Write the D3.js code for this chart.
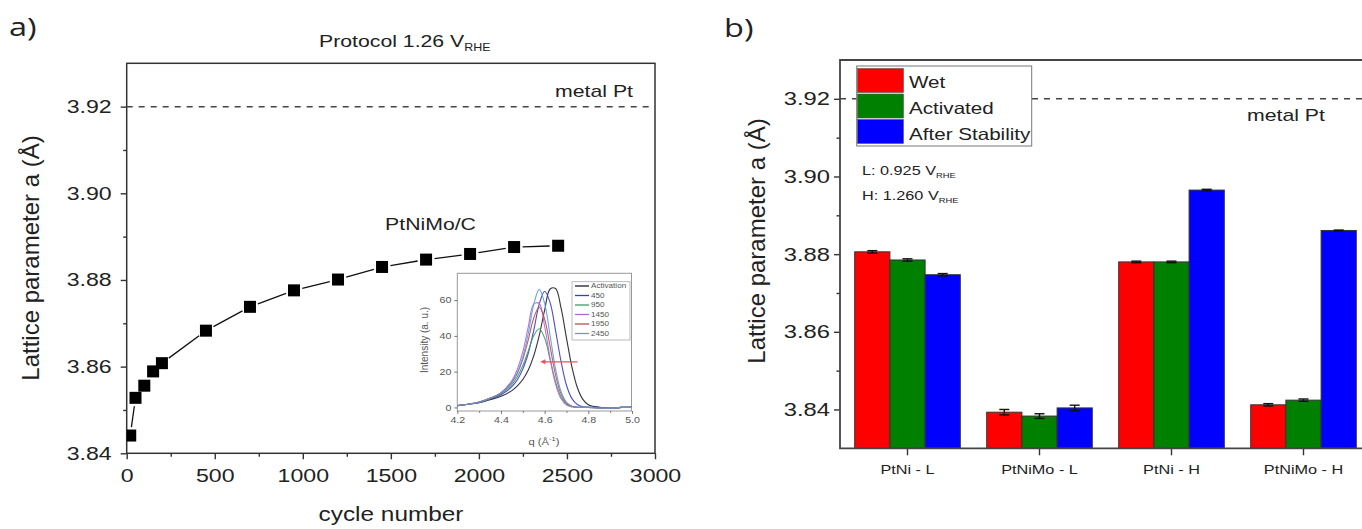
<!DOCTYPE html>
<html>
<head>
<meta charset="utf-8">
<script src="https://cdn.jsdelivr.net/npm/d3@7"></script>
<style>
  body { margin: 0; background: #fff; }
  svg { display: block; }
</style>
</head>
<body>
<script>
// panel a: lattice parameter vs cycle number
const cycles = [20, 50, 100, 150, 200, 450, 700, 950, 1200, 1450, 1700, 1950, 2200, 2450]
const lattice = [3.8441, 3.8528, 3.8556, 3.8589, 3.8608, 3.8683, 3.8738, 3.8776,
  3.8801, 3.8830, 3.8847, 3.8860, 3.8876, 3.8879]
const metalPt = 3.92

// inset: XRD peak profiles
const qValues = [4.20, 4.25, 4.30, 4.35, 4.40, 4.45, 4.475, 4.50, 4.525, 4.55, 4.575, 4.60,
  4.625, 4.65, 4.675, 4.70, 4.725, 4.75, 4.775, 4.80, 4.85, 4.90, 4.95, 5.00]
const profActivation = [1.0, 1.8, 2.6, 4.3, 6.2, 9.4, 12.0, 15.6, 20.9, 28.8, 40.1, 54.4,
  66.2, 66.5, 55.6, 38.8, 22.6, 11.0, 4.5, 1.5, 0.1, -0.5, 0, 0]
const prof450 = [1.0, 1.8, 2.8, 4.7, 7.1, 11.6, 15.5, 21.4, 30.3, 43.0, 57.7, 65.0,
  58.6, 43.0, 25.7, 12.4, 4.9, 1.6, 0.4, 0.1, 0, -0.5, 0, 0]
const prof950 = [1.0, 1.8, 2.8, 4.9, 7.6, 12.8, 17.2, 23.4, 31.6, 40.1, 44.0, 38.8,
  26.7, 14.3, 5.9, 1.9, 0.5, 0.1, 0, 0, -0.3, -0.5, 0, 0]
const prof1450 = [1.0, 1.8, 3.0, 5.1, 8.3, 15.0, 21.4, 31.2, 45.0, 57.8, 58.1, 45.3,
  27.5, 13.0, 4.8, 1.4, 0.3, 0, 0, 0, -0.3, -0.5, 0, 0]
const prof1950 = [1.0, 1.8, 3.0, 5.2, 8.1, 13.9, 19.1, 26.9, 37.8, 50.0, 56.0, 49.4,
  34.0, 18.2, 7.6, 2.5, 0.6, 0.1, 0, 0, -0.3, -0.5, 0, 0]
const prof2450 = [1.0, 1.8, 3.0, 5.1, 8.0, 14.1, 19.6, 28.3, 41.4, 57.5, 66.0, 58.2,
  40.1, 21.5, 8.9, 2.9, 0.7, 0.1, 0, 0, -0.3, -0.5, 0, 0]
const insetLabels = ['Activation', '450', '950', '1450', '1950', '2450']
const insetColors = ['#1c1c2c', '#3a3ac8', '#3f9a6a', '#b264d8', '#b8504a', '#5a9fd6']
const arrowFrom = [4.75, 25.5]
const arrowTo = [4.58, 25.5]

// panel b: grouped bars
const groups = ['PtNi - L', 'PtNiMo - L', 'PtNi - H', 'PtNiMo - H']
const seriesNames = ['Wet', 'Activated', 'After Stability']
const seriesColors = ['#ff0000', '#008000', '#0000ff']
const wet = [3.8806, 3.8393, 3.8780, 3.8412]
const activated = [3.8785, 3.8383, 3.8780, 3.8424]
const afterStability = [3.8747, 3.8404, 3.8965, 3.8861]
const wetErr = [0.0003, 0.0007, 0.0002, 0.0003]
const activatedErr = [0.0003, 0.0006, 0.0002, 0.0003]
const afterErr = [0.0003, 0.0007, 0.0002, 0.0001]

const SX = 1.25
const FONT = "'Liberation Sans', Arial, sans-serif"

const svg = d3.select('body').append('svg')
  .attr('width', 1362)
  .attr('height', 529)

svg.append('rect').attr('width', 1362).attr('height', 529).attr('fill', '#fff')

// horizontal text, slightly widened like the source picture
const label = function (parent, x, y, str, size, anchor) {
  return parent.append('text')
    .attr('transform', `translate(${x},${y}) scale(${SX},1)`)
    .attr('font-family', FONT)
    .attr('font-size', size + 'px')
    .attr('fill', '#222')
    .attr('text-anchor', anchor || 'start')
    .text(str)
}

const styleAxis = function (g, size, color) {
  g.select('.domain').remove()
  g.selectAll('line').attr('stroke', color || '#333').attr('stroke-width', 1.4)
  g.selectAll('text')
    .attr('font-family', FONT)
    .attr('font-size', size + 'px')
    .attr('fill', color || '#222')
    .each(function () {
      const t = d3.select(this)
      t.attr('x', (+t.attr('x') || 0) / SX).attr('transform', `scale(${SX},1)`)
    })
}

// ---------- panel a ----------
const A = { left: 126.7, right: 655, top: 63.3, bottom: 453.3 }
const xA = d3.scaleLinear().domain([0, 3000]).range([A.left, A.right])
const yA = d3.scaleLinear().domain([3.84, 3.93]).range([A.bottom, A.top])
const gA = svg.append('g')

gA.append('g').attr('transform', `translate(0,${A.bottom})`)
  .call(d3.axisBottom(xA).tickValues(d3.range(250, 3000, 500)).tickSize(3.5).tickFormat(''))
  .call(g => styleAxis(g, 18.5))
gA.append('g').attr('transform', `translate(0,${A.bottom})`)
  .call(d3.axisBottom(xA).tickValues(d3.range(0, 3001, 500)).tickSize(6).tickPadding(10)
    .tickFormat(d3.format('d')))
  .call(g => styleAxis(g, 18.5))
gA.append('g').attr('transform', `translate(${A.left},0)`)
  .call(d3.axisLeft(yA).tickValues([3.85, 3.87, 3.89, 3.91]).tickSize(3.5).tickFormat(''))
  .call(g => styleAxis(g, 18.5))
gA.append('g').attr('transform', `translate(${A.left},0)`)
  .call(d3.axisLeft(yA).tickValues([3.84, 3.86, 3.88, 3.90, 3.92]).tickSize(6).tickPadding(9)
    .tickFormat(d3.format('.2f')))
  .call(g => styleAxis(g, 18.5))

gA.append('rect')
  .attr('x', A.left).attr('y', A.top)
  .attr('width', A.right - A.left).attr('height', A.bottom - A.top)
  .attr('fill', 'none').attr('stroke', '#333').attr('stroke-width', 1.5)

gA.append('line')
  .attr('x1', A.left).attr('x2', A.right)
  .attr('y1', yA(metalPt)).attr('y2', yA(metalPt))
  .attr('stroke', '#444').attr('stroke-width', 1.5).attr('stroke-dasharray', '6,6')

// connecting segments leave a small gap around each marker
const pts = cycles.map((c, i) => [xA(c), yA(lattice[i])])
const gap = 8.5
for (let i = 0; i < pts.length - 1; i++) {
  const [x1, y1] = pts[i]
  const [x2, y2] = pts[i + 1]
  const len = Math.hypot(x2 - x1, y2 - y1)
  if (len <= 2 * gap) continue
  const ux = (x2 - x1) / len
  const uy = (y2 - y1) / len
  gA.append('line')
    .attr('x1', x1 + ux * gap).attr('y1', y1 + uy * gap)
    .attr('x2', x2 - ux * gap).attr('y2', y2 - uy * gap)
    .attr('stroke', '#111').attr('stroke-width', 1.3)
}

gA.append('defs').append('clipPath').attr('id', 'clipA')
  .append('rect').attr('x', A.left).attr('y', A.top)
  .attr('width', A.right - A.left).attr('height', A.bottom - A.top)

gA.append('g').attr('clip-path', 'url(#clipA)')
  .selectAll('rect')
  .data(cycles)
  .enter()
  .append('rect')
  .attr('x', (d) => xA(d) - 6)
  .attr('y', (d, i) => yA(lattice[i]) - 6)
  .attr('width', 12)
  .attr('height', 12)
  .attr('fill', '#000')

const title = label(svg, 319, 47, 'Protocol 1.26 V', 17)
title.append('tspan').attr('font-size', '10px').attr('dy', 4).text('RHE')
label(svg, 633, 96.5, 'metal Pt', 17, 'end')
label(svg, 430.5, 230, 'PtNiMo/C', 17, 'middle')
label(svg, 391, 521, 'cycle number', 19.5, 'middle')

svg.append('text')
  .attr('transform', 'translate(39,258) rotate(-90)')
  .attr('font-family', FONT).attr('font-size', '24px').attr('fill', '#222')
  .attr('text-anchor', 'middle')
  .text('Lattice parameter a (Å)')

svg.append('text')
  .attr('transform', `translate(9,36) scale(${SX},1)`)
  .attr('font-family', "'Open Sans', sans-serif").attr('font-size', '26px').attr('fill', '#222')
  .text('a)')

// ---------- inset ----------
const I = { left: 457.3, right: 631.5, top: 273.3, bottom: 411 }
const xI = d3.scaleLinear().domain([4.2, 5.0]).range([I.left, 632])
const yI = d3.scaleLinear().domain([-2, 75]).range([I.bottom, I.top])
const gI = svg.append('g')

gI.append('rect')
  .attr('x', I.left).attr('y', I.top)
  .attr('width', I.right - I.left).attr('height', I.bottom - I.top)
  .attr('fill', '#fff').attr('stroke', '#999').attr('stroke-width', 1)

gI.append('g').attr('transform', `translate(0,${I.bottom})`)
  .call(d3.axisBottom(xI).tickValues([4.3, 4.5, 4.7, 4.9]).tickSize(2).tickFormat(''))
  .call(g => styleAxis(g, 8.5, '#666'))
gI.append('g').attr('transform', `translate(0,${I.bottom})`)
  .call(d3.axisBottom(xI).tickValues([4.2, 4.4, 4.6, 4.8, 5.0]).tickSize(3).tickPadding(3)
    .tickFormat(d3.format('.1f')))
  .call(g => styleAxis(g, 8.5, '#555'))
gI.append('g').attr('transform', `translate(${I.left},0)`)
  .call(d3.axisLeft(yI).tickValues([0, 20, 40, 60]).tickSize(3).tickPadding(3))
  .call(g => styleAxis(g, 8.5, '#555'))
gI.selectAll('line').attr('stroke-width', 0.8)

const profiles = [profActivation, prof450, prof950, prof1450, prof1950, prof2450]
const profLine = d3.line()
  .x((d, i) => xI(qValues[i]))
  .y((d) => yI(d))
  .curve(d3.curveCatmullRom.alpha(0.5))

gI.append('g')
  .selectAll('path')
  .data(profiles)
  .enter()
  .append('path')
  .attr('d', (d) => profLine(d))
  .attr('fill', 'none')
  .attr('stroke', (d, i) => insetColors[i])
  .attr('stroke-width', 1.1)
  .attr('stroke-opacity', 0.9)

// red shift arrow
const ax1 = xI(arrowFrom[0])
const ax2 = xI(arrowTo[0])
const ay = yI(arrowTo[1])
gI.append('line')
  .attr('x1', ax1).attr('x2', ax2 + 3).attr('y1', ay).attr('y2', ay)
  .attr('stroke', '#ff4a5a').attr('stroke-width', 1.3)
gI.append('path')
  .attr('d', `M${ax2},${ay} l5,-2.5 l0,5 z`)
  .attr('fill', '#ff4a5a')

// inset legend
const legI = gI.append('g')
legI.append('rect')
  .attr('x', 572).attr('y', 281.7).attr('width', 58).attr('height', 58.3)
  .attr('fill', '#fff').attr('stroke', '#aaa').attr('stroke-width', 0.8)
insetLabels.forEach(function (name, i) {
  const yy = 286 + i * 9.5
  legI.append('line')
    .attr('x1', 575).attr('x2', 589).attr('y1', yy).attr('y2', yy)
    .attr('stroke', insetColors[i]).attr('stroke-width', 1.3)
  label(legI, 591, yy + 2.3, name, 6.5).attr('fill', '#555')
})

const qLabel = label(svg, 544, 445, 'q (Å', 9, 'middle').attr('fill', '#555')
qLabel.append('tspan').attr('font-size', '6px').attr('dy', -4).text('-1')
qLabel.append('tspan').attr('dy', 4).text(')')
svg.append('text')
  .attr('transform', 'translate(428,340) rotate(-90)')
  .attr('font-family', FONT).attr('font-size', '10px').attr('fill', '#555')
  .attr('text-anchor', 'middle')
  .text('Intensity (a. u.)')

// ---------- panel b ----------
const B = { left: 840, right: 1369.5, top: 60, bottom: 448.3 }
const xB = d3.scaleBand().domain(groups).range([841.5, 1369.5])
  .paddingInner(0.2).paddingOuter(0.1)
const xSub = d3.scaleBand().domain(seriesNames).range([0, xB.bandwidth()])
const yB = d3.scaleLinear().domain([3.83, 3.93]).range([B.bottom, B.top])
const gB = svg.append('g')

gB.append('line')
  .attr('x1', B.left).attr('x2', B.right)
  .attr('y1', yB(metalPt)).attr('y2', yB(metalPt))
  .attr('stroke', '#444').attr('stroke-width', 1.5).attr('stroke-dasharray', '6,6')

const seriesValues = [wet, activated, afterStability]
const seriesErr = [wetErr, activatedErr, afterErr]
seriesNames.forEach(function (name, s) {
  const bars = gB.append('g')
  bars.selectAll('rect')
    .data(seriesValues[s])
    .enter()
    .append('rect')
    .attr('x', (d, i) => xB(groups[i]) + xSub(name))
    .attr('y', (d) => yB(d))
    .attr('width', xSub.bandwidth())
    .attr('height', (d) => yB(3.83) - yB(d))
    .attr('fill', seriesColors[s])
    .attr('stroke', '#333')
    .attr('stroke-width', 1)

  // error bars
  seriesValues[s].forEach(function (v, i) {
    const cx = xB(groups[i]) + xSub(name) + xSub.bandwidth() / 2
    const e = seriesErr[s][i]
    const yt = yB(v + e)
    const yb = yB(v - e)
    bars.append('line').attr('x1', cx).attr('x2', cx).attr('y1', yt).attr('y2', yb)
      .attr('stroke', '#111').attr('stroke-width', 1.4)
    bars.append('line').attr('x1', cx - 5).attr('x2', cx + 5).attr('y1', yt).attr('y2', yt)
      .attr('stroke', '#111').attr('stroke-width', 1.4)
    bars.append('line').attr('x1', cx - 5).attr('x2', cx + 5).attr('y1', yb).attr('y2', yb)
      .attr('stroke', '#111').attr('stroke-width', 1.4)
  })
})

gB.append('g').attr('transform', `translate(0,${B.bottom})`)
  .call(d3.axisBottom(xB).tickSize(7).tickPadding(9))
  .call(g => styleAxis(g, 13))
gB.append('g').attr('transform', `translate(${B.left},0)`)
  .call(d3.axisLeft(yB).tickValues([3.85, 3.87, 3.89, 3.91]).tickSize(3.5).tickFormat(''))
  .call(g => styleAxis(g, 19))
gB.append('g').attr('transform', `translate(${B.left},0)`)
  .call(d3.axisLeft(yB).tickValues([3.84, 3.86, 3.88, 3.90, 3.92]).tickSize(6).tickPadding(4)
    .tickFormat(d3.format('.2f')))
  .call(g => styleAxis(g, 19))

gB.append('path')
  .attr('d', `M${B.right},${B.top}H${B.left}V${B.bottom}H${B.right}`)
  .attr('fill', 'none').attr('stroke', '#444').attr('stroke-width', 1.8)

// legend
const legB = gB.append('g')
legB.append('rect')
  .attr('x', 856.7).attr('y', 66).attr('width', 175).attr('height', 80)
  .attr('fill', '#fff').attr('stroke', '#777').attr('stroke-width', 1)
seriesNames.forEach(function (name, s) {
  legB.append('rect')
    .attr('x', 857.5).attr('y', 68.5 + s * 25.5)
    .attr('width', 46).attr('height', 24)
    .attr('fill', seriesColors[s]).attr('stroke', '#555').attr('stroke-width', 0.6)
  label(legB, 909, 88 + s * 26, name, 16.5)
})

const lText = label(svg, 862, 175, 'L: 0.925 V', 13)
lText.append('tspan').attr('font-size', '7.5px').attr('dy', 3).text('RHE')
const hText = label(svg, 862, 200, 'H: 1.260 V', 13)
hText.append('tspan').attr('font-size', '7.5px').attr('dy', 3).text('RHE')
label(svg, 1247, 120.5, 'metal Pt', 17)

svg.append('text')
  .attr('transform', 'translate(765,241) rotate(-90)')
  .attr('font-family', FONT).attr('font-size', '24px').attr('fill', '#222')
  .attr('text-anchor', 'middle')
  .text('Lattice parameter a (Å)')

svg.append('text')
  .attr('transform', `translate(724,37) scale(${SX},1)`)
  .attr('font-family', "'Open Sans', sans-serif").attr('font-size', '26px').attr('fill', '#222')
  .text('b)')
</script>
</body>
</html>
